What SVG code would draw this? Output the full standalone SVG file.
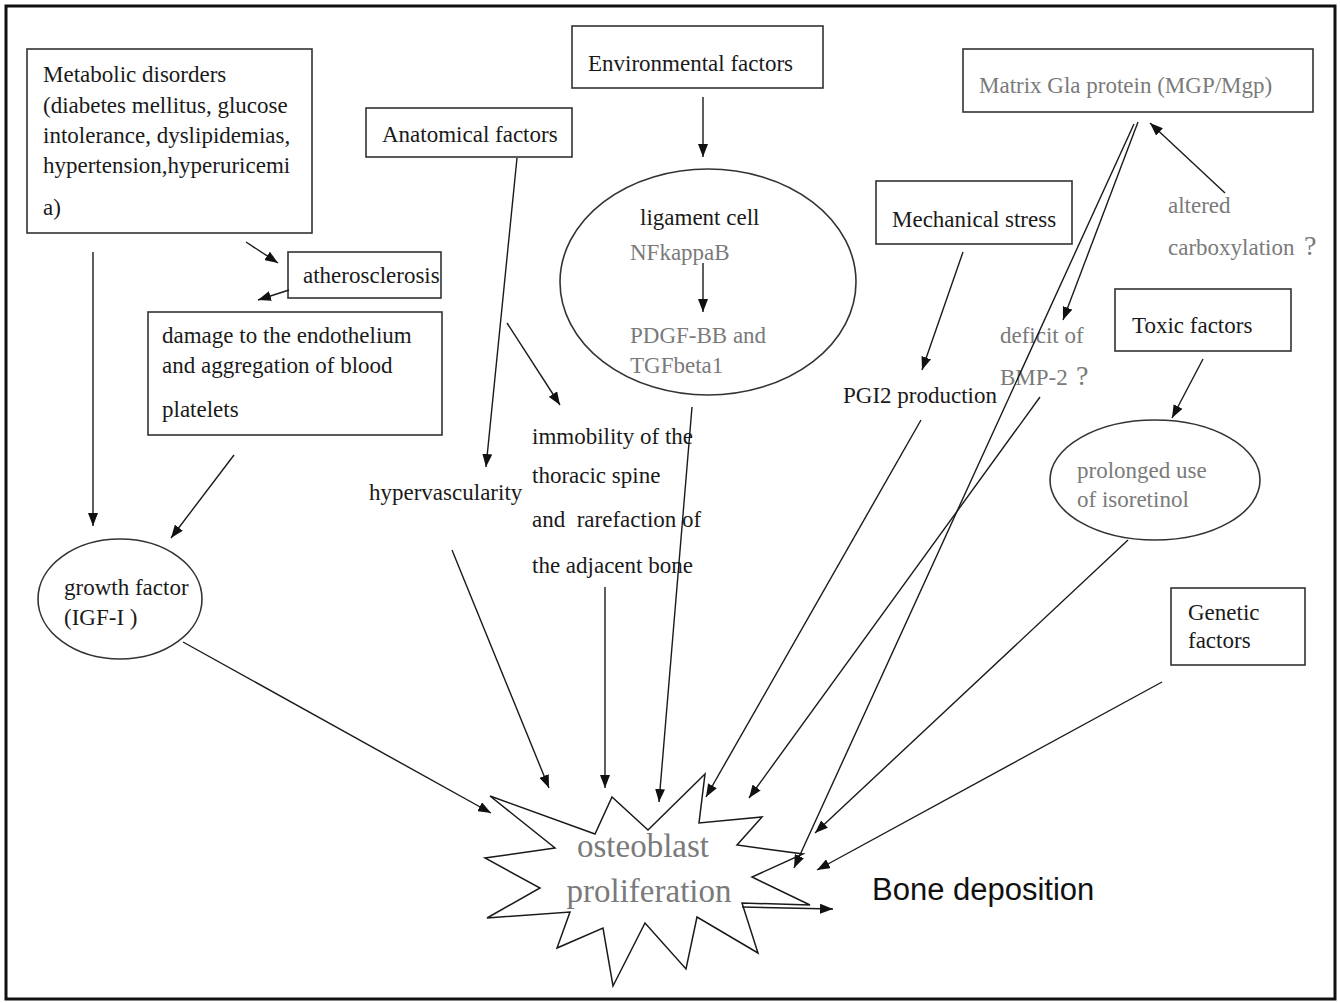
<svg xmlns="http://www.w3.org/2000/svg" width="1340" height="1003" viewBox="0 0 1340 1003">
<defs>
<marker id="ah" markerUnits="userSpaceOnUse" markerWidth="14" markerHeight="10" refX="13" refY="5" orient="auto">
<path d="M0,0 L13,5 L0,10 z" fill="#111"/>
</marker>
<style>
.box{fill:#fff;stroke:#333;stroke-width:1.6}
.t{font-family:"Liberation Serif","Times New Roman",serif;font-size:23px;fill:#1a1a1a}
.g{fill:#7a7a7a}
.c line,.c path{stroke:#1a1a1a;stroke-width:1.4;fill:none}
.a{marker-end:url(#ah)}
</style>
</defs>
<rect x="0" y="0" width="1340" height="1003" fill="#fff"/>
<rect x="6" y="6" width="1329" height="993" fill="none" stroke="#111" stroke-width="3"/>

<g id="metabolic">
<rect class="box" x="27" y="49" width="285" height="184"/>
<text class="t" x="43" y="82">Metabolic disorders</text>
<text class="t" x="43" y="113">(diabetes mellitus, glucose</text>
<text class="t" x="43" y="143">intolerance, dyslipidemias,</text>
<text class="t" x="43" y="173">hypertension,hyperuricemi</text>
<text class="t" x="43" y="215">a)</text>
</g>
<g id="atherosclerosis">
<rect class="box" x="288" y="252" width="153" height="46"/>
<text class="t" x="303" y="283">atherosclerosis</text>
</g>
<g id="damage">
<rect class="box" x="148" y="312" width="294" height="123"/>
<text class="t" x="162" y="343">damage to the endothelium</text>
<text class="t" x="162" y="373">and aggregation of blood</text>
<text class="t" x="162" y="417">platelets</text>
</g>
<g id="growth">
<ellipse class="box" cx="120" cy="599" rx="82" ry="60"/>
<text class="t" x="64" y="595">growth factor</text>
<text class="t" x="64" y="625">(IGF-I )</text>
</g>
<g id="anatomical">
<rect class="box" x="366" y="108" width="206" height="49"/>
<text class="t" x="382" y="142">Anatomical factors</text>
</g>
<g id="hypervascularity">
<text class="t" x="369" y="500">hypervascularity</text>
</g>
<g id="immobility">
<text class="t" x="532" y="444">immobility of the</text>
<text class="t" x="532" y="483">thoracic spine</text>
<text class="t" x="532" y="527" xml:space="preserve">and  rarefaction of</text>
<text class="t" x="532" y="573">the adjacent bone</text>
</g>
<g id="environmental">
<rect class="box" x="572" y="26" width="251" height="62"/>
<text class="t" x="588" y="71">Environmental factors</text>
</g>
<g id="ligament">
<ellipse class="box" cx="708" cy="282" rx="148" ry="113"/>
<text class="t" x="640" y="225">ligament cell</text>
<text class="t g" x="630" y="260">NFkappaB</text>
<text class="t g" x="630" y="343">PDGF-BB and</text>
<text class="t g" x="630" y="373">TGFbeta1</text>
</g>
<g id="mechanical">
<rect class="box" x="876" y="181" width="196" height="63"/>
<text class="t" x="892" y="227">Mechanical stress</text>
</g>
<g id="pgi2">
<text class="t" x="843" y="403">PGI2 production</text>
</g>
<g id="mgp">
<rect class="box" x="963" y="49" width="350" height="63"/>
<text class="t g" x="979" y="93">Matrix Gla protein (MGP/Mgp)</text>
</g>
<g id="altered">
<text class="t g" x="1168" y="213">altered</text>
<text class="t g" x="1168" y="255">carboxylation</text>
<text class="t g" x="1304" y="255" style="font-size:28px">?</text>
</g>
<g id="bmp2">
<text class="t g" x="1000" y="343">deficit of</text>
<text class="t g" x="1000" y="385">BMP-2</text>
<text class="t g" x="1076" y="385" style="font-size:28px">?</text>
</g>
<g id="toxic">
<rect class="box" x="1115" y="289" width="176" height="62"/>
<text class="t" x="1132" y="333">Toxic factors</text>
</g>
<g id="isoretinol">
<ellipse class="box" cx="1155" cy="480" rx="105" ry="60"/>
<text class="t g" x="1077" y="478">prolonged use</text>
<text class="t g" x="1077" y="507">of isoretinol</text>
</g>
<g id="genetic">
<rect class="box" x="1171" y="588" width="134" height="77"/>
<text class="t" x="1188" y="620">Genetic</text>
<text class="t" x="1188" y="648">factors</text>
</g>
<g id="osteoblast">
<polygon points="490,796 595,834 612,797 648,830 705,774 699,823 762,817 737,845 803,854 752,877 810,905 742,903 758,953 697,917 686,969 645,923 613,986 603,928 557,948 570,912 487,918 540,888 485,858 555,848" fill="#fff" stroke="#1a1a1a" stroke-width="1.5" stroke-linejoin="miter"/>
<text class="t g" x="643" y="857" text-anchor="middle" style="font-size:33px">osteoblast</text>
<text class="t g" x="649" y="902" text-anchor="middle" style="font-size:33px">proliferation</text>
</g>
<g id="bone">
<text x="872" y="900" style="font-family:'Liberation Sans',Arial,sans-serif;font-size:31px;fill:#111">Bone deposition</text>
</g>

<g id="connectors" class="c">
<line class="a" x1="246" y1="242" x2="278" y2="263"/>
<line class="a" x1="289" y1="290" x2="258" y2="300"/>
<line class="a" x1="93" y1="252" x2="93" y2="526"/>
<line class="a" x1="234" y1="455" x2="171" y2="538"/>
<line class="a" x1="183" y1="642" x2="491" y2="813"/>
<line class="a" x1="517" y1="158" x2="486" y2="467"/>
<line class="a" x1="507" y1="323" x2="560" y2="405"/>
<line class="a" x1="452" y1="550" x2="549" y2="788"/>
<line class="a" x1="605" y1="587" x2="605" y2="788"/>
<line class="a" x1="703" y1="97" x2="703" y2="157"/>
<line class="a" x1="703" y1="263" x2="703" y2="312"/>
<line class="a" x1="692" y1="407" x2="659" y2="802"/>
<line class="a" x1="963" y1="252" x2="922" y2="370"/>
<line class="a" x1="921" y1="420" x2="706" y2="797"/>
<line class="a" x1="1138" y1="122" x2="1063" y2="320"/>
<line class="a" x1="1134" y1="124" x2="794" y2="868"/>
<line class="a" x1="1040" y1="397" x2="749" y2="798"/>
<line class="a" x1="1225" y1="193" x2="1150" y2="123"/>
<line class="a" x1="1203" y1="359" x2="1172" y2="418"/>
<line class="a" x1="1128" y1="540" x2="815" y2="833"/>
<line class="a" x1="1162" y1="682" x2="817" y2="870"/>
<line class="a" x1="742" y1="907" x2="833" y2="909"/>
</g>
</svg>
